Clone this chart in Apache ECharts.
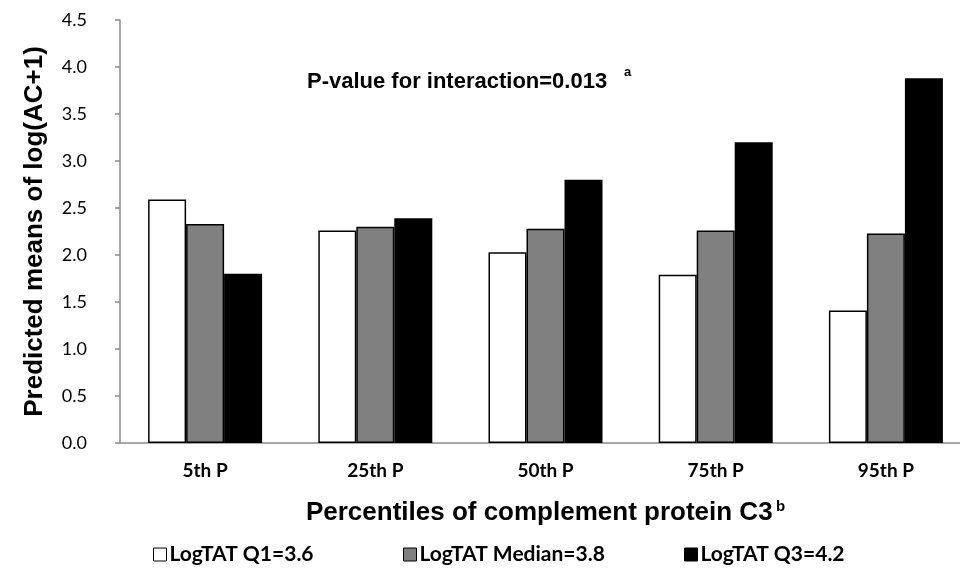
<!DOCTYPE html>
<html>
<head>
<meta charset="utf-8">
<script src="https://cdn.jsdelivr.net/npm/echarts@6/dist/echarts.min.js"></script>
<style>
    html, body { margin: 0; padding: 0; background: #fff; }
    #chart { width: 960px; height: 574px; }
</style>
</head>
<body>
<div id="chart"></div>
<script>
// categories and values
var categories = ['5th P', '25th P', '50th P', '75th P', '95th P'];
var seriesNames = ['LogTAT Q1=3.6', 'LogTAT Median=3.8', 'LogTAT Q3=4.2'];
var q1Values = [2.59, 2.26, 2.03, 1.79, 1.41];
var medianValues = [2.33, 2.30, 2.28, 2.26, 2.23];
var q3Values = [1.80, 2.39, 2.80, 3.20, 3.88];
var yTicks = { min: 0, max: 4.5, step: 0.5 };

var colors = ['#ffffff', '#808080', '#000000'];
var allValues = [q1Values, medianValues, q3Values];

var myChart = echarts.init(document.getElementById('chart'));

var series = seriesNames.map(function (name, i) {
    return {
        name: name,
        type: 'bar',
        barWidth: 38,
        barGap: '0%',
        itemStyle: {
            color: colors[i],
            borderColor: '#000',
            borderWidth: 1.5
        },
        emphasis: { disabled: true },
        data: allValues[i]
    };
});

// one legend per item so each can sit where it does in the picture
var legendLefts = [148, 398, 679];
var legends = seriesNames.map(function (name, i) {
    return {
        data: [name],
        left: legendLefts[i],
        top: 539,
        icon: 'rect',
        itemWidth: 13,
        itemHeight: 13,
        itemGap: 0,
        itemStyle: { borderColor: '#000', borderWidth: 1 },
        textStyle: {
            fontFamily: 'Lato',
            fontWeight: 'bold',
            fontSize: 21,
            color: '#000',
            padding: [0, 0, 0, -2]
        }
    };
});

var option = {
    animation: false,
    backgroundColor: '#fff',
    grid: {
        left: 120,
        top: 20,
        width: 851,
        bottom: 131,
        outerBoundsMode: 'none'
    },
    legend: legends,
    xAxis: {
        type: 'category',
        data: categories,
        axisLine: { lineStyle: { color: '#8c8c8c', width: 1.5 } },
        axisTick: { show: false },
        axisLabel: {
            margin: 18,
            fontFamily: 'Lato',
            fontWeight: 'bold',
            fontSize: 19,
            color: '#000'
        },
        name: '{t|Percentiles of complement protein C3} {s|b}',
        nameLocation: 'middle',
        nameGap: 56,
        nameTextStyle: {
            rich: {
                t: { fontFamily: 'Liberation Sans', fontWeight: 'bold', fontSize: 26, color: '#000' },
                s: { fontFamily: 'Liberation Sans', fontWeight: 'bold', fontSize: 15, color: '#000', verticalAlign: 'top', padding: [0, 0, 12, 0] }
            }
        }
    },
    yAxis: {
        type: 'value',
        min: yTicks.min,
        max: yTicks.max,
        interval: yTicks.step,
        splitLine: { show: false },
        axisLine: { show: true, lineStyle: { color: '#8c8c8c', width: 1.5 } },
        axisTick: { show: true, inside: false, length: 5, lineStyle: { color: '#8c8c8c', width: 1.5 } },
        axisLabel: {
            margin: 33,
            fontFamily: 'Lato',
            fontSize: 18,
            color: '#000',
            formatter: function (v) { return v.toFixed(1); }
        },
        name: 'Predicted means of log(AC+1)',
        nameLocation: 'middle',
        nameRotate: 90,
        nameGap: 72,
        nameTextStyle: {
            fontFamily: 'Liberation Sans',
            fontWeight: 'bold',
            fontSize: 26,
            color: '#000'
        }
    },
    graphic: [
        {
            type: 'text',
            left: 307,
            top: 71,
            style: {
                text: 'P-value for interaction=0.013',
                font: 'bold 22px "Liberation Sans"',
                fill: '#000'
            }
        },
        {
            type: 'text',
            left: 624,
            top: 66,
            style: {
                text: 'a',
                font: 'bold 13px "Liberation Sans"',
                fill: '#000'
            }
        }
    ],
    series: series
};

myChart.setOption(option);
</script>
</body>
</html>
